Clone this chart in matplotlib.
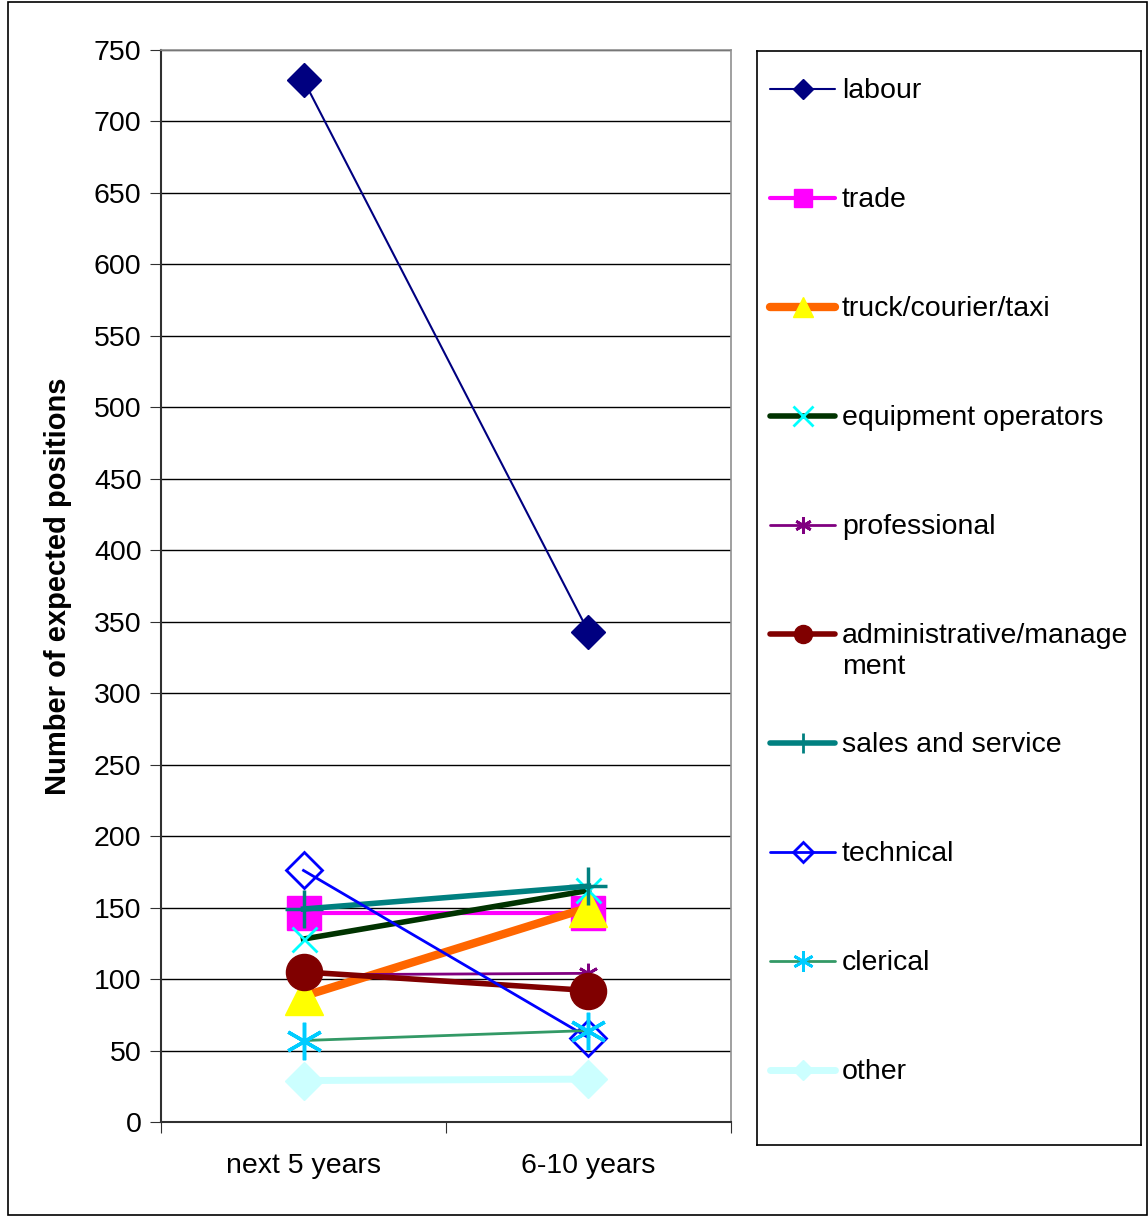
import matplotlib
matplotlib.use('Agg')
import matplotlib.pyplot as plt
from matplotlib.lines import Line2D
from matplotlib.patches import Rectangle

plt.rcParams['font.family'] = ['Liberation Sans', 'DejaVu Sans']

periods = ['next 5 years', '6-10 years']
series = ['labour', 'trade', 'truck/courier/taxi', 'equipment operators', 'professional',
          'administrative/manage\nment', 'sales and service', 'technical', 'clerical', 'other']
labour = [729, 343]
trade = [146, 146]
truck = [88, 150]
equipment = [128, 162]
professional = [103, 104]
admin = [105, 92]
sales = [149, 165]
technical = [176, 59]
clerical = [57, 64]
other = [29, 30]
values = [labour, trade, truck, equipment, professional, admin, sales, technical, clerical, other]

# line colour/width, marker, marker size in plot (ms) and in legend (lms), faces and edges
styles = [
    dict(color='#000080', lw=1.5, marker='D', ms=17, lms=10, mfc='#000080', mec='#000080', mew=1),
    dict(color='#FF00FF', lw=3, marker='s', ms=25, lms=13, mfc='#FF00FF', mec='#FF00FF', mew=1),
    dict(color='#FF6600', lw=6, marker='^', ms=27, lms=14.5, mfc='#FFFF00', mec='#FFFF00', mew=1),
    dict(color='#003300', lw=4, marker='x', ms=18, lms=14, mfc='none', mec='#00FFFF', mew=2),
    dict(color='#800080', lw=2, marker=(6, 2, 0), ms=14, lms=12, mfc='none', mec='#800080', mew=2),
    dict(color='#800000', lw=4, marker='o', ms=26, lms=13, mfc='#800000', mec='#800000', mew=1),
    dict(color='#008080', lw=4, marker='+', ms=27, lms=14, mfc='none', mec='#008080', mew=2.5),
    dict(color='#0000FF', lw=2, marker='D', ms=18, lms=10, mfc='none', mec='#0000FF', mew=2),
    dict(color='#339966', lw=2, marker=(6, 2, 0), ms=27, lms=15, mfc='none', mec='#00CCFF', mew=2.5),
    dict(color='#CCFFFF', lw=5, marker='D', ms=19, lms=10.5, mfc='#CCFFFF', mec='#CCFFFF', mew=1),
]

fs = 20.5
fig = plt.figure(figsize=(11.48, 12.16), dpi=100)
fig.patches.append(Rectangle((8 / 1148, 0.001), 1139 / 1148, 1 - 3 / 1216, transform=fig.transFigure,
                             fill=False, edgecolor='black', lw=1.2))

ax = fig.add_axes([161 / 1148, 1 - 1122 / 1216, 570 / 1148, 1072 / 1216])
xs = [0.5, 1.5]
for vals, st in zip(values, styles):
    ax.plot(xs, vals, color=st['color'], lw=st['lw'], marker=st['marker'], ms=st['ms'],
            mfc=st['mfc'], mec=st['mec'], mew=st['mew'], clip_on=False)

ax.set_xlim(0, 2)
ax.set_ylim(0, 750)
ax.set_yticks(range(0, 751, 50))
ax.set_xticks([0, 1, 2])
ax.set_xticklabels([])
ax.set_xticks(xs, minor=True)
ax.set_xticklabels(periods, minor=True, fontsize=fs)
ax.tick_params(axis='x', which='minor', length=0, pad=22)
ax.tick_params(axis='x', which='major', length=8, color='#303030', direction='out')
ax.tick_params(axis='y', length=8, color='#303030', labelsize=fs, pad=6)
ax.yaxis.grid(True, color='black', lw=1)
ax.set_axisbelow(True)
for s in ['left', 'bottom']:
    ax.spines[s].set_color('#303030')
    ax.spines[s].set_linewidth(1.5)
for s in ['top', 'right']:
    ax.spines[s].set_color('#909090')
    ax.spines[s].set_linewidth(1.2)
ax.set_ylabel('Number of expected positions', fontsize=21, fontweight='bold', labelpad=16)

# legend box drawn from the same series/styles
lx0, ly0, lw_, lh = 757 / 1148, 1 - 1145 / 1216, 384 / 1148, 1094 / 1216
lax = fig.add_axes([lx0, ly0, lw_, lh])
lax.set_xlim(0, 384)
lax.set_ylim(1094, 0)
lax.set_xticks([])
lax.set_yticks([])
for s in lax.spines.values():
    s.set_color('black')
    s.set_linewidth(1.2)
for i, (name, st) in enumerate(zip(series, styles)):
    yrow = 38 + i * 109
    lax.add_line(Line2D([13, 78], [yrow, yrow], color=st['color'], lw=st['lw'], solid_capstyle='round'))
    lax.add_line(Line2D([45.5], [yrow], lw=0, marker=st['marker'], ms=st['lms'],
                        mfc=st['mfc'], mec=st['mec'], mew=min(st['mew'], 2)))
    lax.text(85, yrow - 11, name, fontsize=fs, va='top', ha='left', linespacing=1.25)

fig.savefig('out.png', dpi=100)
